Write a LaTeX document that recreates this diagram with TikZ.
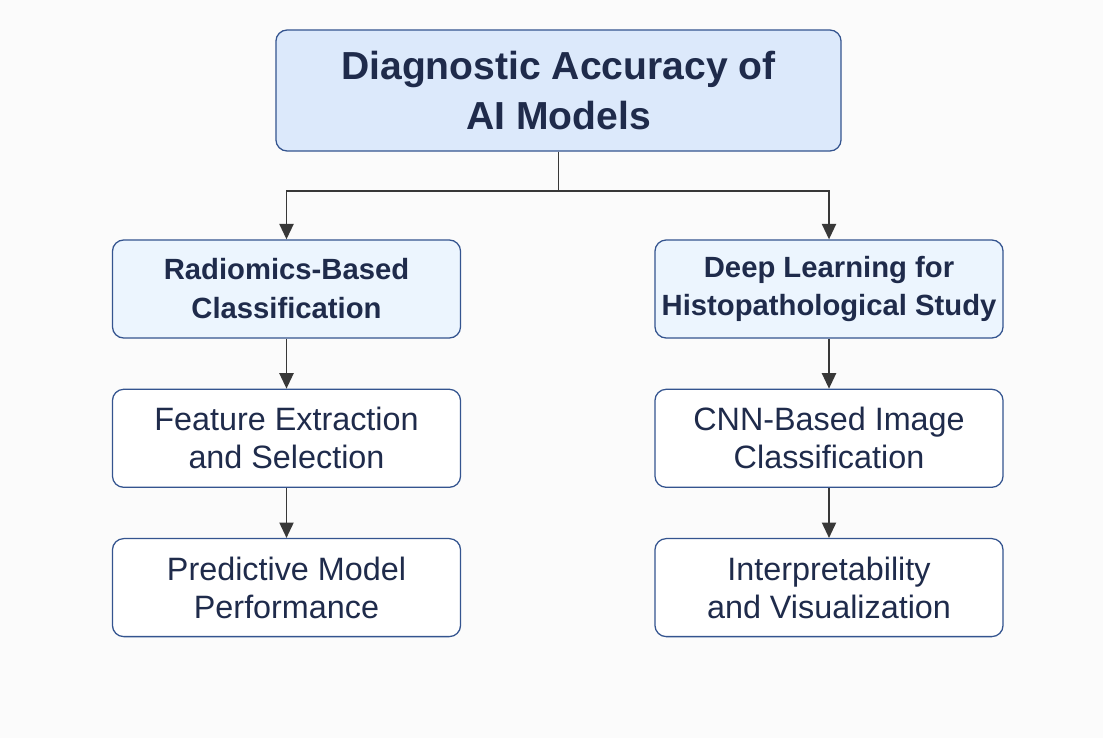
\documentclass[tikz,border=0pt]{standalone}
\usepackage{fontspec}
\setmainfont{Liberation Sans}
\usetikzlibrary{arrows.meta,positioning}
\definecolor{titlefill}{HTML}{DCE9FB}
\definecolor{branchfill}{HTML}{ECF5FE}
\definecolor{boxborder}{HTML}{34548F}
\definecolor{textnavy}{HTML}{1F2B4B}
\definecolor{linkgray}{HTML}{383838}
\definecolor{pagebg}{HTML}{FBFBFB}
\tikzset{
    base box/.style={
        rectangle, draw=boxborder, line width=0.9pt,
        rounded corners=8pt, align=center, text=textnavy
    },
    title box/.style={
        base box, fill=titlefill,
        minimum width=14.125cm, minimum height=3.025cm,
        font=\fontsize{27.8}{35}\selectfont\bfseries
    },
    branch box/.style={
        base box, fill=branchfill,
        minimum width=8.7cm, minimum height=2.45cm,
        font=\fontsize{20.8}{27.7}\selectfont\bfseries
    },
    detail box/.style={
        base box, fill=white,
        minimum width=8.7cm, minimum height=2.45cm,
        font=\fontsize{23}{27}\selectfont
    },
    link/.style={
        -{Triangle[length=11pt, width=10pt]}, line width=1.4pt, draw=linkgray
    },
    trunk/.style={line width=1.4pt, draw=linkgray},
}

\begin{document}
\begin{tikzpicture}[x=0.025cm, y=-0.025cm, node distance=1.25cm]
    % page
    \fill[pagebg] (0,0) rectangle (1103,738);

    % root and the two branches
    \node[title box] (accuracy) at (558.5,90.5) {Diagnostic Accuracy of\\AI Models};
    \node[branch box] (radiomics) at (286.5,289) {Radiomics-Based\\Classification};
    \node[branch box] (deeplearning) at (829,289) {Deep Learning for\\Histopathological Study\vphantom{C}};

    % left column
    \node[detail box, below=of radiomics] (features) {Feature Extraction\\and Selection};
    \node[detail box, below=of features] (predictive) {Predictive Model\\Performance};

    % right column
    \node[detail box, below=of deeplearning] (cnn) {CNN-Based Image\\Classification};
    \node[detail box, below=of cnn] (interpret) {Interpretability\\and Visualization};

    % split from the root
    \draw[trunk] (accuracy.south) -- ++(0,39) coordinate (split);
    \draw[link] (split) -| (radiomics.north);
    \draw[link] (split) -| (deeplearning.north);

    \draw[link] (radiomics) -- (features);
    \draw[link] (features) -- (predictive);
    \draw[link] (deeplearning) -- (cnn);
    \draw[link] (cnn) -- (interpret);
\end{tikzpicture}
\end{document}
